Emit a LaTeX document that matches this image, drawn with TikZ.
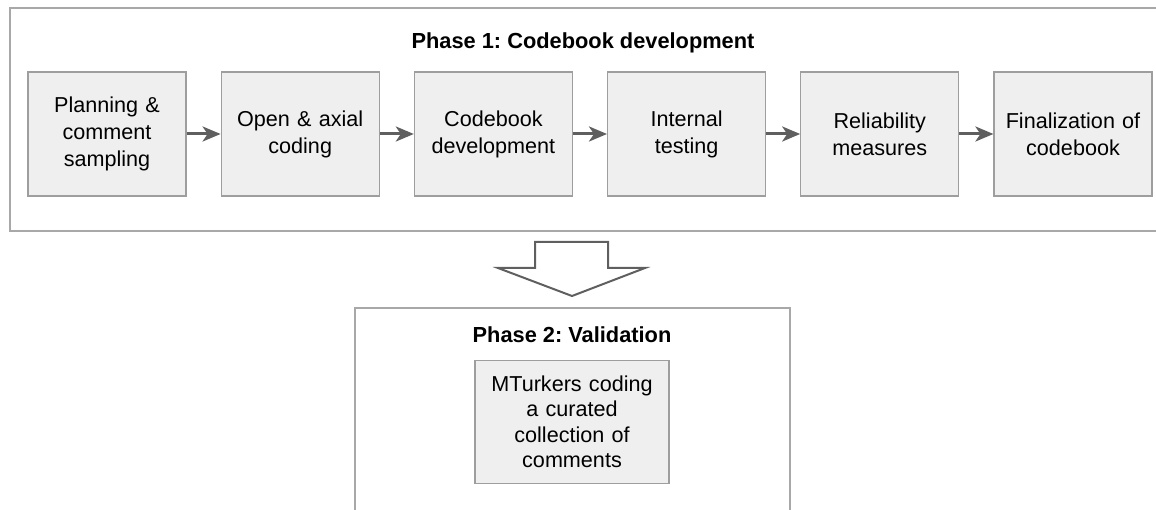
\documentclass[tikz,border=0pt]{standalone}
\usepackage{fontspec}
\setmainfont{Liberation Sans}
\usetikzlibrary{positioning,arrows.meta}

\definecolor{boxfill}{HTML}{EFEFEF}
\definecolor{boxline}{HTML}{9E9E9E}
\definecolor{frameline}{HTML}{A8A8A8}
\definecolor{arrowgray}{HTML}{5F5F5F}

\begin{document}
\frenchspacing
\begin{tikzpicture}[x=1pt,y=-1pt,
    stepbox/.style={draw=boxline, line width=1.2pt, fill=boxfill, minimum width=158pt, minimum height=124pt,
        text width=152pt, align=center, font=\fontsize{21.6}{27}\selectfont, inner sep=0pt},
    phasetitle/.style={font=\fontsize{21.8}{26}\selectfont\bfseries},
    flow/.style={arrowgray, line width=3pt, -{Stealth[length=18pt,width=15pt,inset=5pt]}},
    node distance=34pt]
    \useasboundingbox (0,0) rectangle (1156,510);
    \clip (0,0) rectangle (1156,510);

    % Phase 1: codebook development
    \draw[frameline, line width=1.4pt] (10,8) rectangle (1180,231);
    \node[phasetitle] (title1) at (583,43) {Phase 1: Codebook development};
    \node[stepbox] (plan) at (107,134) {Planning \&\\comment\\sampling};
    \node[stepbox, right=of plan] (open) {Open \& axial\\coding};
    \node[stepbox, right=of open] (devel) {Codebook\\development};
    \node[stepbox, right=of devel] (test) {Internal\\testing};
    \node[stepbox, right=of test] (reliab) {Reliability\\measures};
    \node[stepbox, right=of reliab] (final) {Finalization of\\codebook};
    \draw[flow] (plan) -- (open);
    \draw[flow] (open) -- (devel);
    \draw[flow] (devel) -- (test);
    \draw[flow] (test) -- (reliab);
    \draw[flow] (reliab) -- (final);

    % big hollow arrow between the phases
    \draw[arrowgray, line width=2pt, line join=miter]
        (535,242) -- (608,242) -- (608,268) -- (645,268) -- (572,296)
        -- (498,268) -- (535,268) -- cycle;

    % Phase 2: validation
    \draw[frameline, line width=1.4pt] (355,540) |- (790,308) -- (790,540);
    \node[phasetitle] (title2) at (572,335) {Phase 2: Validation};
    \node[stepbox, minimum width=194pt, minimum height=123pt, text width=190pt,
        font=\fontsize{21.6}{25.5}\selectfont] (mturk) at (572,422)
        {MTurkers coding\\a curated\\collection of\\comments};
\end{tikzpicture}
\end{document}
